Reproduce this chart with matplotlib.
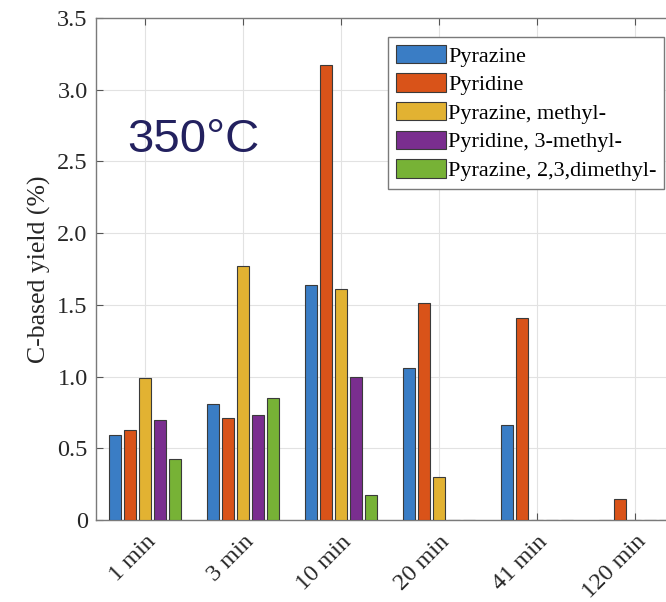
import matplotlib.pyplot as plt
import numpy as np

# Data
times = ['1 min', '3 min', '10 min', '20 min', '41 min', '120 min']
pyrazine = [0.59, 0.81, 1.64, 1.06, 0.66, 0]
pyridine = [0.63, 0.71, 3.17, 1.51, 1.41, 0.145]
pyrazine_methyl = [0.99, 1.77, 1.61, 0.30, 0, 0]
pyridine_3methyl = [0.70, 0.73, 1.00, 0, 0, 0]
pyrazine_23dimethyl = [0.425, 0.85, 0.175, 0, 0, 0]

series = [pyrazine, pyridine, pyrazine_methyl, pyridine_3methyl, pyrazine_23dimethyl]
labels = ['Pyrazine', 'Pyridine', 'Pyrazine, methyl-', 'Pyridine, 3-methyl-',
          'Pyrazine, 2,3,dimethyl-']
colors = ['#3A7DC5', '#D95319', '#E2B232', '#7A2E8F', '#77B236']

yticks = [0, 0.5, 1.0, 1.5, 2.0, 2.5, 3.0, 3.5]
yticklabels = ['0', '0.5', '1.0', '1.5', '2.0', '2.5', '3.0', '3.5']

W, H = 666, 602
fig = plt.figure(figsize=(W / 100, H / 100), dpi=100)
# axes right edge runs past the image like the cropped original
ax = fig.add_axes([96 / W, (H - 520) / H, 588 / W, 502 / H])

x = np.arange(len(times))
pitch = 0.153
width = 0.128
for i, (vals, lab, col) in enumerate(zip(series, labels, colors)):
    ax.bar(x + (i - 2) * pitch, vals, width, color=col, edgecolor='#3a3a3a',
           linewidth=0.8, label=lab, zorder=3)

ax.set_xlim(-0.5, len(times) - 0.5)
ax.set_ylim(0, 3.5)
ax.set_yticks(yticks)
ax.set_yticklabels(yticklabels)
ax.set_xticks(x)
ax.set_xticklabels(times, rotation=45, ha='right', rotation_mode='anchor')

serif = 'Liberation Serif'
for t in ax.get_xticklabels() + ax.get_yticklabels():
    t.set_fontfamily(serif)
    t.set_fontsize(17.5)
    t.set_color('#262626')

ax.set_ylabel('C-based yield (%)', fontfamily=serif, fontsize=18.5, color='#262626', labelpad=4)

ax.grid(True, color='#e2e2e2', linewidth=0.8, zorder=0)
ax.set_axisbelow(True)
ax.tick_params(direction='in', top=True, right=True, length=5, color='#555555')
ax.tick_params(axis='x', pad=8)
ax.tick_params(axis='y', pad=6)
for s in ax.spines.values():
    s.set_color('#7a7a7a')
    s.set_linewidth(1.0)

ax.text(0.053, 0.733, '350\u00b0C', transform=ax.transAxes, fontfamily='Liberation Sans',
        fontsize=34, color='#23215F', va='baseline', ha='left')

leg = ax.legend(loc='upper left', bbox_to_anchor=(0.497, 0.962), prop={'family': serif, 'size': 16},
                handlelength=2.25, handleheight=0.9, handletextpad=0.1, labelspacing=0.3,
                borderpad=0.35, borderaxespad=0, fancybox=False, framealpha=1)
leg.get_frame().set_edgecolor('#7a7a7a')
leg.get_frame().set_linewidth(1.0)

fig.savefig('out.png', dpi=100)
